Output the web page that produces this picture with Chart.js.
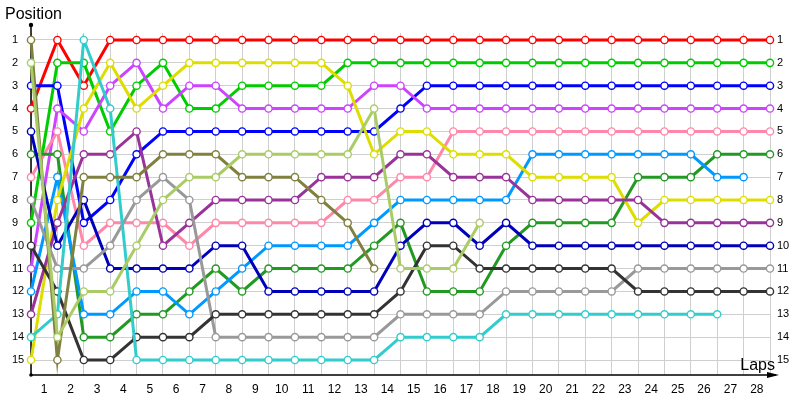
<!DOCTYPE html>
<html>
<head>
<meta charset="utf-8">
<script src="https://cdn.jsdelivr.net/npm/chart.js@4/dist/chart.umd.min.js"></script>
<style>
html,body{margin:0;padding:0;background:#fff;}
#wrap{width:800px;height:400px;}
</style>
</head>
<body>
<div id="wrap"><canvas id="c" width="800" height="400"></canvas></div>
<script>
// ---- data ----
const laps = [0,1,2,3,4,5,6,7,8,9,10,11,12,13,14,15,16,17,18,19,20,21,22,23,24,25,26,27,28];
const lapLabels = ['1','2','3','4','5','6','7','8','9','10','11','12','13','14','15','16','17','18','19','20','21','22','23','24','25','26','27','28'];
const positions = [1,2,3,4,5,6,7,8,9,10,11,12,13,14,15];
const yTitle = 'Position';
const xTitle = 'Laps';

// series listed in finishing order (retired cars last)
const seriesNames = ['Red','Green','Blue','Violet','Pink','Dark green','Light blue','Yellow','Purple','Navy','Grey','Dark grey','Cyan','Olive','Lime'];
const seriesColors = ['#ff0000','#00cc00','#0000ff','#cc44ff','#ff88aa','#229922','#0099ff','#dddd00','#993399','#0000bb','#999999','#333333','#33cccc','#808040','#aacc66'];

const red        = [4,1,3,1,1,1,1,1,1,1,1,1,1,1,1,1,1,1,1,1,1,1,1,1,1,1,1,1,1];
const green      = [9,2,2,5,3,2,4,4,3,3,3,3,2,2,2,2,2,2,2,2,2,2,2,2,2,2,2,2,2];
const blue       = [3,3,9,8,6,5,5,5,5,5,5,5,5,5,4,3,3,3,3,3,3,3,3,3,3,3,3,3,3];
const violet     = [11,4,5,3,2,4,3,3,4,4,4,4,4,3,3,4,4,4,4,4,4,4,4,4,4,4,4,4,4];
const pink       = [7,5,10,9,9,9,10,9,9,9,9,9,8,8,7,7,5,5,5,5,5,5,5,5,5,5,5,5,5];
const darkGreen  = [6,6,14,14,13,13,12,11,12,11,11,11,11,10,9,12,12,12,10,9,9,9,9,7,7,7,6,6,6];
const lightBlue  = [12,7,13,13,12,12,13,12,11,10,10,10,10,9,8,8,8,8,8,6,6,6,6,6,6,6,7,7,null];
const yellow     = [15,8,4,2,4,3,2,2,2,2,2,2,3,6,5,5,6,6,6,7,7,7,7,9,8,8,8,8,8];
const purple     = [13,9,6,6,5,10,9,8,8,8,8,7,7,7,6,6,7,7,7,8,8,8,8,8,9,9,9,9,9];
const navy       = [5,10,8,11,11,11,11,10,10,12,12,12,12,12,10,9,9,10,9,10,10,10,10,10,10,10,10,10,10];
const grey       = [8,11,11,10,8,7,8,14,14,14,14,14,14,14,13,13,13,13,12,12,12,12,12,11,11,11,11,11,11];
const darkGrey   = [10,12,15,15,14,14,14,13,13,13,13,13,13,13,12,10,10,11,11,11,11,11,11,12,12,12,12,12,12];
const cyan       = [14,13,1,4,15,15,15,15,15,15,15,15,15,15,14,14,14,14,13,13,13,13,13,13,13,13,13,null,null];
const olive      = [1,15,7,7,7,6,6,6,7,7,7,8,9,11,null,null,null,null,null,null,null,null,null,null,null,null,null,null,null];
const lime       = [2,14,12,12,10,8,7,7,6,6,6,6,6,4,11,11,11,9,null,null,null,null,null,null,null,null,null,null,null];

const seriesValues = [red,green,blue,violet,pink,darkGreen,lightBlue,yellow,purple,navy,grey,darkGrey,cyan,olive,lime];

// ---- build datasets (dataset 0 is drawn on top, so reverse) ----
const datasets = seriesValues.map((vals,i)=>({
  label: seriesNames[i],
  data: laps.map((l,j)=>({x:l, y:vals[j]})),
  borderColor: seriesColors[i],
  backgroundColor: '#ffffff',
  pointBackgroundColor: '#ffffff',
  pointBorderColor: seriesColors[i],
  pointRadius: 3.6,
  pointBorderWidth: 1.4,
  borderWidth: 3,
  tension: 0,
  fill: false,
  spanGaps: false,
  clip: false
})).reverse();

const axisDeco = {
  id:'axisDeco',
  beforeDatasetsDraw(chart){
    const {ctx, chartArea:{left,right,top,bottom}} = chart;
    ctx.save();
    ctx.strokeStyle='#000'; ctx.fillStyle='#000'; ctx.lineWidth=1.5;
    ctx.beginPath();
    ctx.moveTo(left, top-8);
    ctx.lineTo(left, bottom);
    ctx.lineTo(right+6, bottom);
    ctx.stroke();
    ctx.beginPath();
    ctx.moveTo(right+9, bottom);
    ctx.lineTo(right-3, bottom-3);
    ctx.lineTo(right-3, bottom+3);
    ctx.closePath(); ctx.fill();
    ctx.beginPath(); ctx.arc(left, top-8, 2.2, 0, Math.PI*2); ctx.fill();
    ctx.beginPath(); ctx.arc(left, bottom, 1.8, 0, Math.PI*2); ctx.fill();
    ctx.restore();
  },
  afterDraw(chart){
    const {ctx, chartArea:{right,bottom}} = chart;
    ctx.save();
    ctx.fillStyle='#000';
    ctx.font='16px "Liberation Sans", Arial, sans-serif';
    ctx.textAlign='right'; ctx.textBaseline='alphabetic';
    ctx.fillText(xTitle, right+5, bottom-5);
    ctx.textAlign='left'; ctx.textBaseline='middle';
    ctx.fillText(yTitle, 5, 15);
    ctx.restore();
  }
};

const tickFontY = {family:'Liberation Sans', size:11};
const tickFontX = {family:'Liberation Sans', size:12};

new Chart(document.getElementById('c'), {
  type:'line',
  data:{datasets},
  plugins:[axisDeco],
  options:{
    responsive:false,
    animation:false,
    devicePixelRatio:1,
    events:[],
    layout:{padding:{left:12,right:0,top:33,bottom:0}},
    plugins:{
      legend:{display:false},
      tooltip:{enabled:false},
      title:{display:false}
    },
    scales:{
      x:{
        type:'linear', min:0, max:28, position:'bottom',
        afterBuildTicks(s){
          const t=[];
          laps.forEach(v=>t.push({value:v}));
          lapLabels.forEach((l,i)=>t.push({value:i+0.5}));
          t.sort((a,b)=>a.value-b.value);
          s.ticks=t;
        },
        afterFit(s){ s.height=25; },
        grid:{drawTicks:false, color:(c)=> (c.tick && Number.isInteger(c.tick.value)) ? '#cfcfcf' : 'rgba(0,0,0,0)'},
        border:{display:false},
        ticks:{autoSkip:false, maxRotation:0, padding:7, color:'#000', font:tickFontX,
          callback:(v)=> Number.isInteger(v) ? '' : lapLabels[Math.floor(v)]}
      },
      y:{
        type:'linear', reverse:true, min:0.694, max:15.656, position:'left',
        afterBuildTicks(s){ s.ticks = positions.map(v=>({value:v})); },
        afterFit(s){ s.width=19; },
        grid:{drawTicks:false, color:'#cfcfcf'},
        border:{display:false},
        ticks:{autoSkip:false, crossAlign:'far', padding:4, color:'#000', font:tickFontY}
      },
      y2:{
        type:'linear', reverse:true, min:0.694, max:15.656, position:'right',
        afterBuildTicks(s){ s.ticks = positions.map(v=>({value:v})); },
        afterFit(s){ s.width=30; },
        grid:{display:false, drawTicks:false},
        border:{display:false},
        ticks:{autoSkip:false, crossAlign:'near', padding:7, color:'#000', font:tickFontY}
      }
    }
  }
});
</script>
</body>
</html>
